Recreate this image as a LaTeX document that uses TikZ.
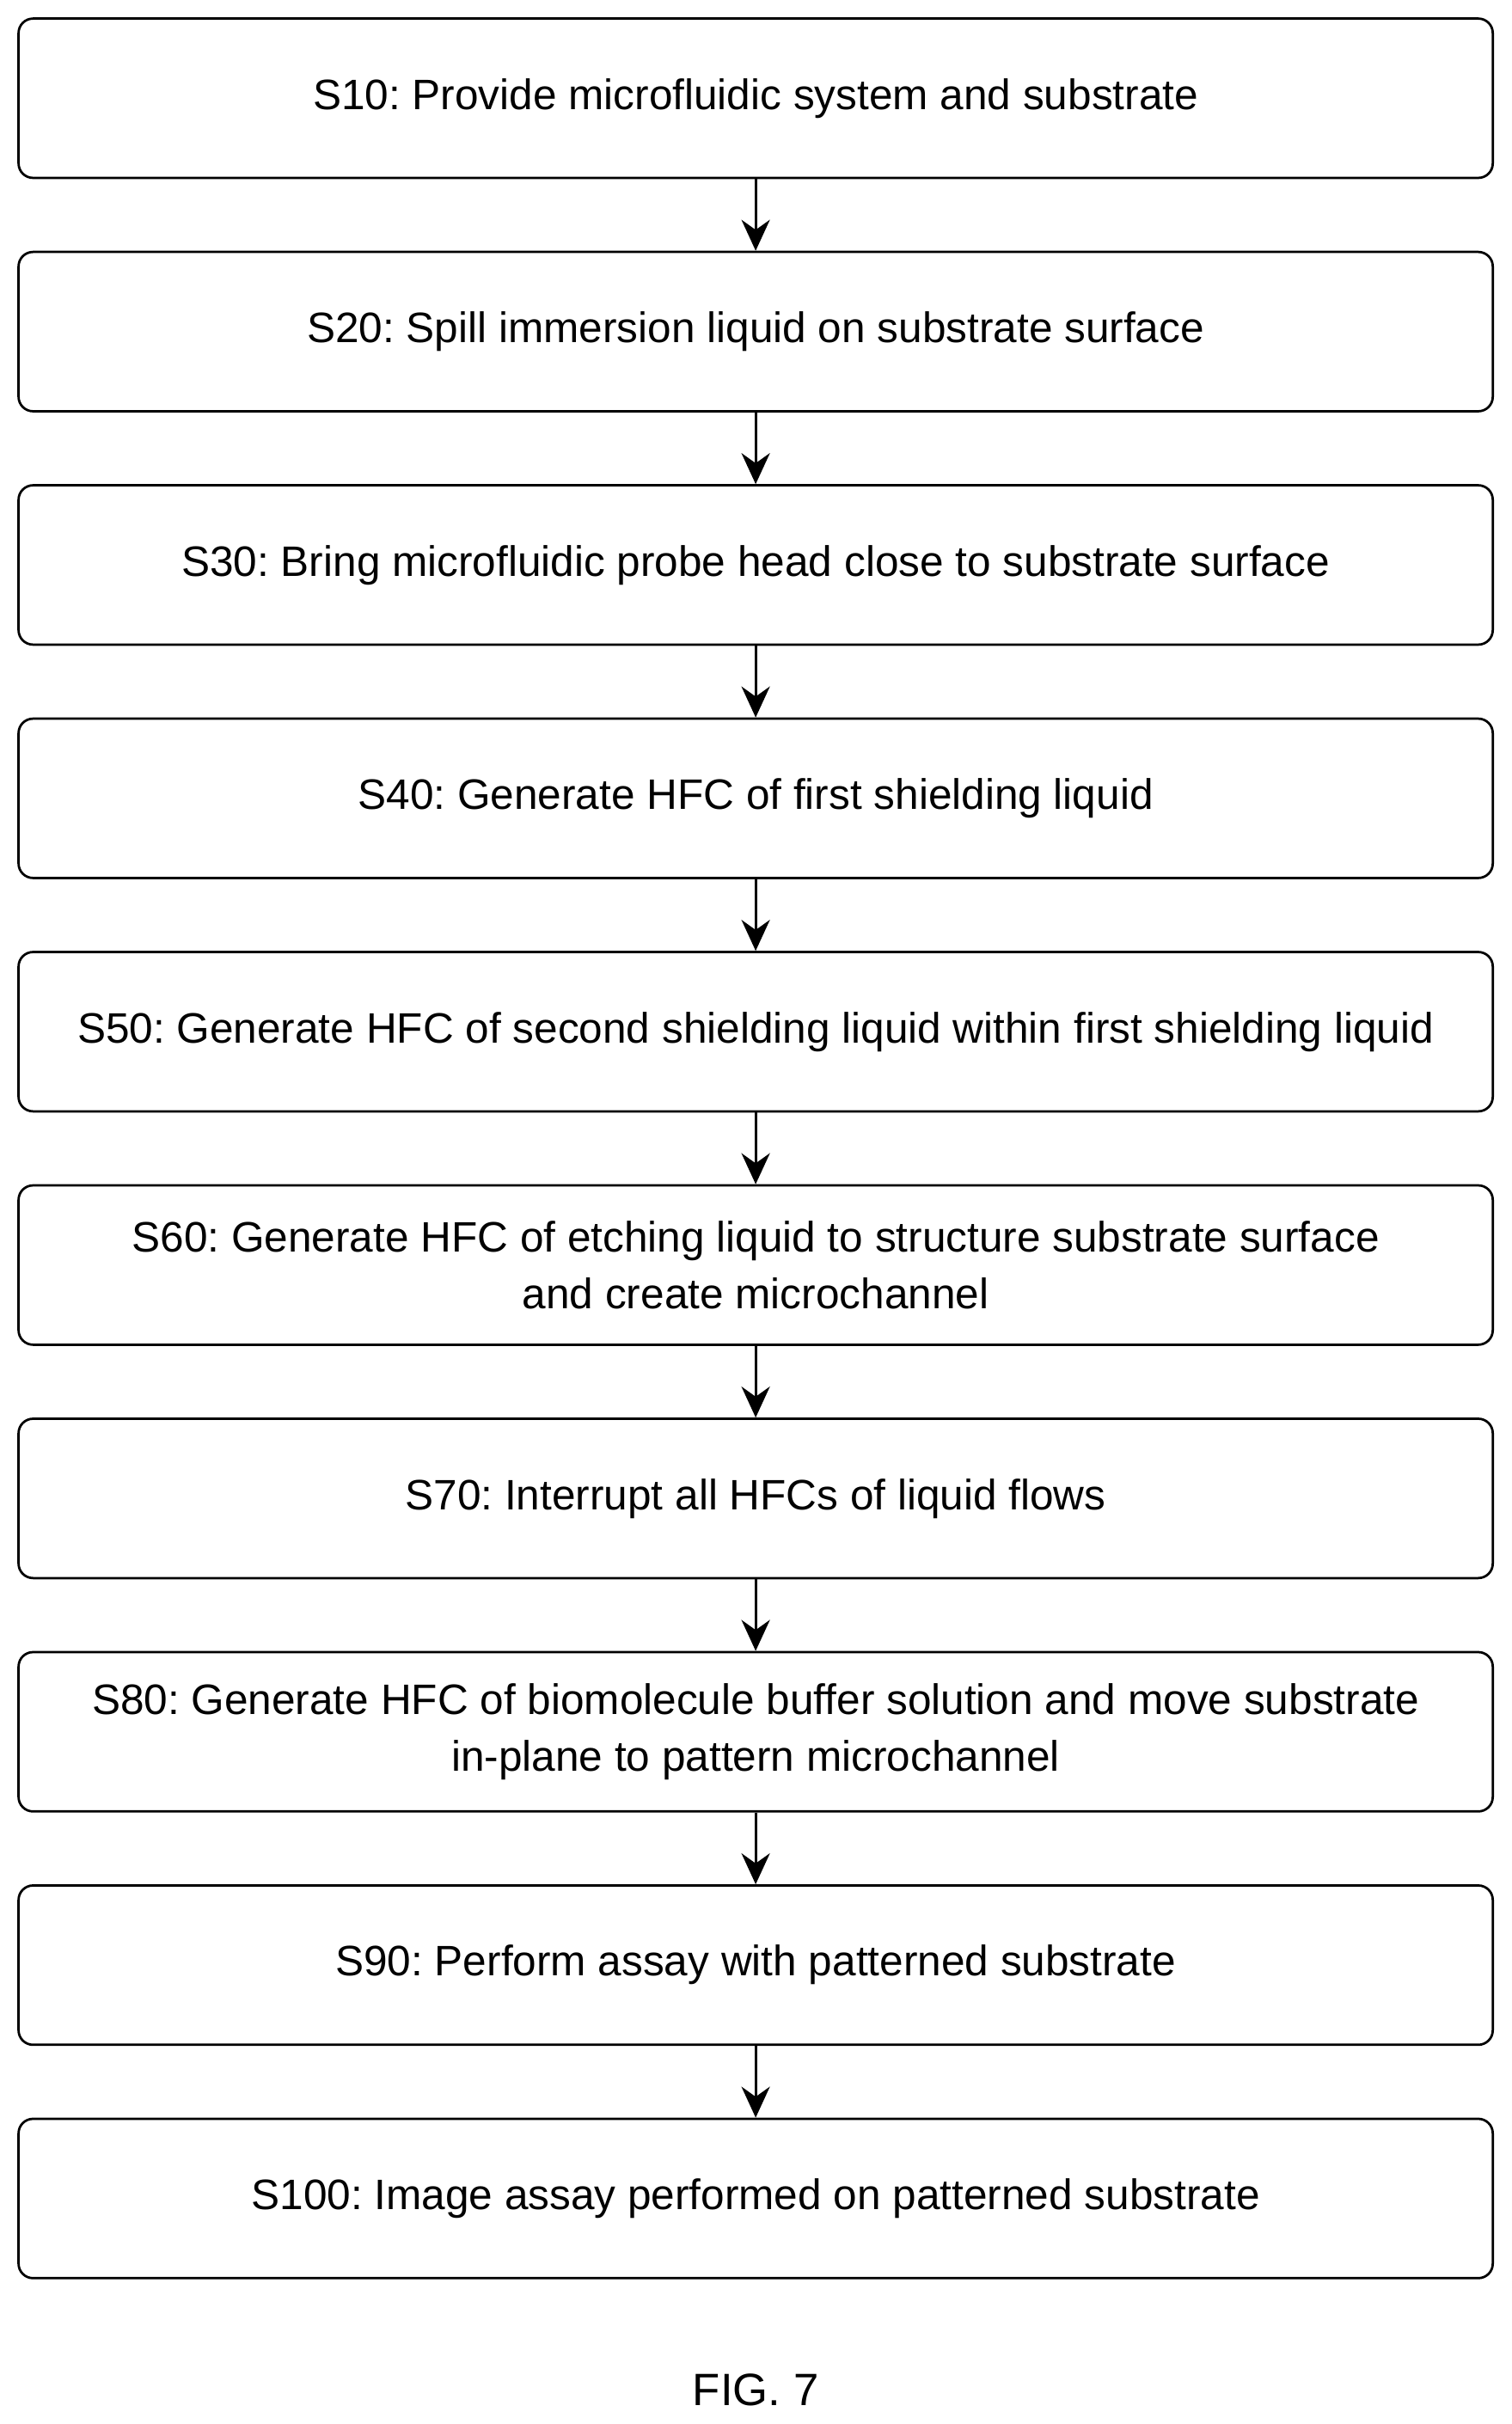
\documentclass[tikz,border=0pt]{standalone}
\usepackage{fontspec}
\setmainfont{Liberation Sans}
\frenchspacing
\usetikzlibrary{arrows.meta,positioning}

\begin{document}
\begin{tikzpicture}
    \useasboundingbox (0,0) rectangle (29.31,-47.01);

    \tikzset{stepbox/.style={draw,rounded corners=8pt,line width=1.3pt,minimum width=28.59cm,
            minimum height=3.09cm,align=center,font=\fontsize{23.5}{31}\selectfont},
        flow/.style={-{Stealth[length=6mm,width=5.5mm]},line width=1.5pt}}
    \node[stepbox] at (14.655,-1.905) (s10) {S10: Provide microfluidic system and substrate};
    \node[stepbox,below=1.39cm of s10] (s20) {S20: Spill immersion liquid on substrate surface};
    \node[stepbox,below=1.39cm of s20] (s30) {S30: Bring microfluidic probe head close to substrate surface};
    \node[stepbox,below=1.39cm of s30] (s40) {S40: Generate HFC of first shielding liquid};
    \node[stepbox,below=1.39cm of s40] (s50) {S50: Generate HFC of second shielding liquid within first shielding liquid};
    \node[stepbox,below=1.39cm of s50] (s60) {S60: Generate HFC of etching liquid to structure substrate surface\\and create microchannel};
    \node[stepbox,below=1.39cm of s60] (s70) {S70: Interrupt all HFCs of liquid flows};
    \node[stepbox,below=1.39cm of s70] (s80) {S80: Generate HFC of biomolecule buffer solution and move substrate\\in-plane to pattern microchannel};
    \node[stepbox,below=1.39cm of s80] (s90) {S90: Perform assay with patterned substrate};
    \node[stepbox,below=1.39cm of s90] (s100) {S100: Image assay performed on patterned substrate};

    \foreach \a/\b in {s10/s20,s20/s30,s30/s40,s40/s50,s50/s60,s60/s70,s70/s80,s80/s90,s90/s100}
        \draw[flow] (\a) -- (\b);

    \node[font=\fontsize{25}{28}\selectfont] at (14.655,-46.35) (fig) {FIG. 7};
\end{tikzpicture}
\end{document}
